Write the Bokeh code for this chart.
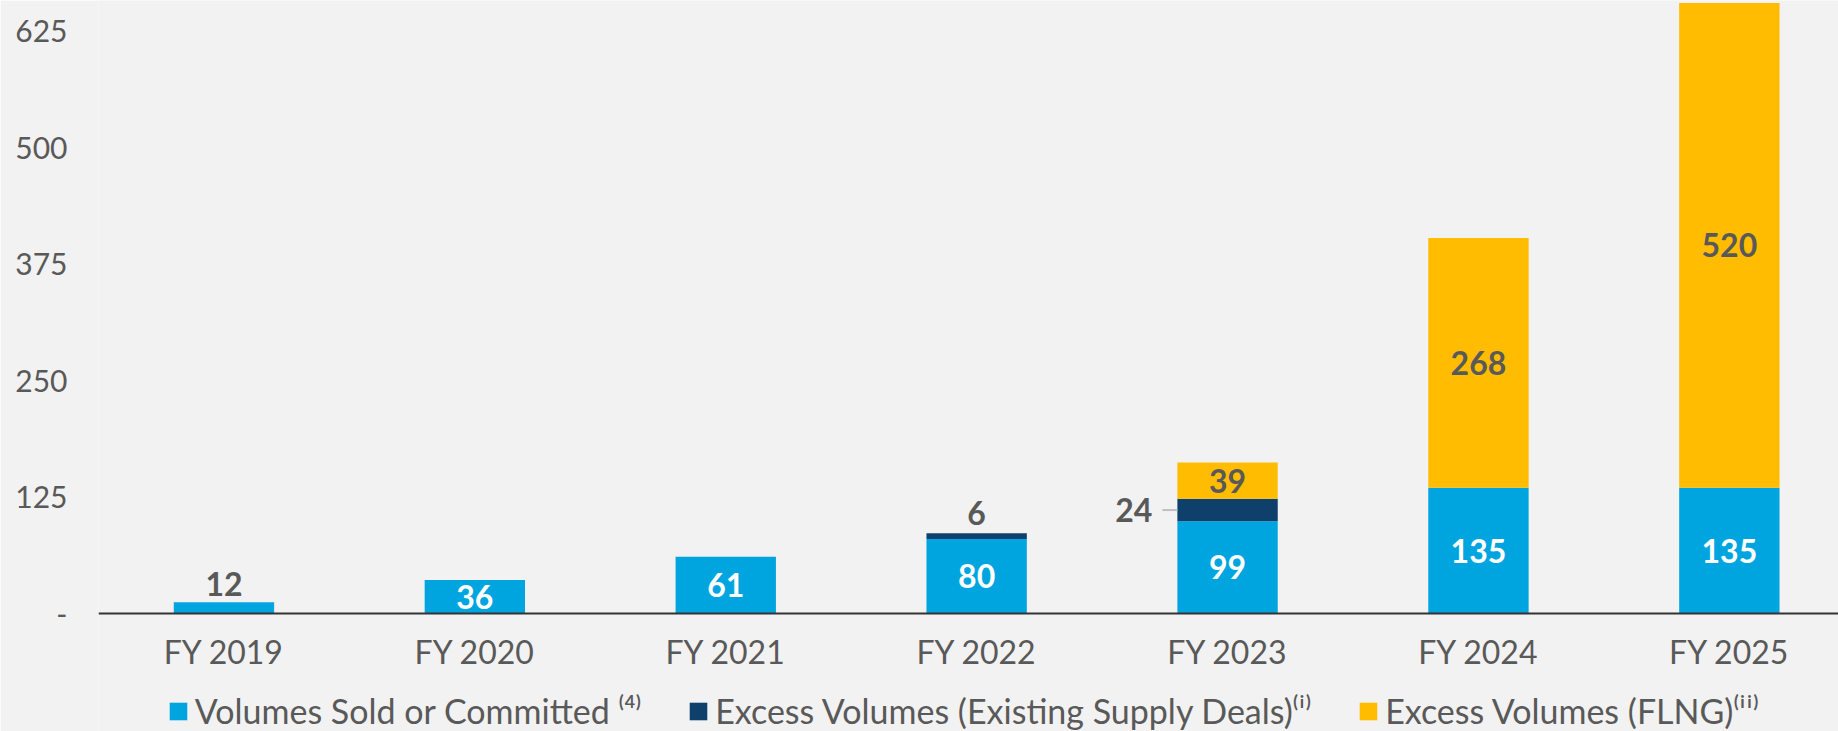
from bokeh.plotting import figure
from bokeh.models import ColumnDataSource, Range1d, FixedTicker, Legend, LegendItem
from bokeh.core.properties import value
from bokeh.embed import file_html
from bokeh.resources import INLINE

# ---- data ----
years = ["FY 2019", "FY 2020", "FY 2021", "FY 2022", "FY 2023", "FY 2024", "FY 2025"]
sold = [12, 36, 61, 80, 99, 135, 135]
existing = [0, 0, 0, 6, 24, 0, 0]
flng = [0, 0, 0, 0, 39, 268, 520]
y_ticks = [0, 125, 250, 375, 500, 625]
series_names = ["Volumes Sold or Committed \u207d\u2074\u207e",
                "Excess Volumes (Existing Supply Deals)\u207d\u2071\u207e",
                "Excess Volumes (FLNG)\u207d\u2071\u2071\u207e"]

# ---- style ----
BLUE = "#00A5DF"
NAVY = "#0F406C"
GOLD = "#FFBC00"
GRAY = "#595959"
BG = "#F2F2F2"
FONT_NAME = "Lato"
FONT = value(FONT_NAME)
BAR_W = 0.4

W, H = 1838, 731
LEFT = 98
BASE_PX = 613            # pixel row of the zero line
PX_PER_Y = 0.932
FRAME_W = W - LEFT
X0, X1 = -0.5, 6.435
PX_PER_X = FRAME_W / (X1 - X0)
Y_TOP = BASE_PX / PX_PER_Y
Y_BOT = -(H - BASE_PX) / PX_PER_Y

xs = list(range(len(years)))
src = ColumnDataSource(dict(x=xs, sold=sold, existing=existing, flng=flng))

p = figure(width=W, height=H, output_backend="svg", toolbar_location=None,
           x_range=Range1d(X0, X1), y_range=Range1d(Y_BOT, Y_TOP),
           min_border_left=LEFT, min_border_right=0, min_border_top=0,
           min_border_bottom=0,
           background_fill_color=BG, border_fill_color=BG, outline_line_color=None)

rs = p.vbar_stack(["sold", "existing", "flng"], x="x", width=BAR_W, source=src,
                  fill_color=[BLUE, NAVY, GOLD], line_color=None)

label_kw = dict(text_font=FONT, text_font_style="bold", text_font_size="32px",
                text_align="center", text_baseline="middle")

# sold labels: inside (white) for tall bars, above for small bar
in_idx = [i for i, v in enumerate(sold) if v >= 30]
out_idx = [i for i, v in enumerate(sold) if v < 30]
p.text(x=[xs[i] for i in in_idx], y=[sold[i] / 2 for i in in_idx],
       text=[str(sold[i]) for i in in_idx], text_color="white", **label_kw)
p.text(x=[xs[i] for i in out_idx], y=[sold[i] for i in out_idx],
       text=[str(sold[i]) for i in out_idx], text_color=GRAY,
       y_offset=-18, **label_kw)

# existing supply labels
ex_idx = [i for i, v in enumerate(existing) if v > 0]
above_ex = [i for i in ex_idx if flng[i] == 0]
side_ex = [i for i in ex_idx if flng[i] > 0]
p.text(x=[xs[i] for i in above_ex], y=[sold[i] + existing[i] for i in above_ex],
       text=[str(existing[i]) for i in above_ex], text_color=GRAY,
       y_offset=-20, **label_kw)
mid_ex = [sold[i] + existing[i] / 2 for i in side_ex]
left_ex = [xs[i] - BAR_W / 2 for i in side_ex]
p.segment(x0=[lx - 15 / PX_PER_X for lx in left_ex], x1=left_ex, y0=mid_ex, y1=mid_ex,
          line_color="#BFBFBF", line_width=2)
p.text(x=left_ex, y=mid_ex, text=[str(existing[i]) for i in side_ex], text_color=GRAY,
       text_baseline="middle", x_offset=-25,
       text_font=FONT, text_font_style="bold", text_font_size="32px", text_align="right")

# FLNG labels
fl_idx = [i for i, v in enumerate(flng) if v > 0]
p.text(x=[xs[i] for i in fl_idx],
       y=[sold[i] + existing[i] + flng[i] / 2 for i in fl_idx],
       text=[str(flng[i]) for i in fl_idx], text_color=GRAY, **label_kw)

# ---- axes ----
p.xgrid.visible = False
p.ygrid.visible = False

xa = p.xaxis[0]
xa.fixed_location = 0
xa.ticker = FixedTicker(ticks=xs)
xa.major_label_overrides = {i: years[i] for i in xs}
xa.axis_line_color = "#333333"
xa.axis_line_width = 2
xa.major_tick_line_color = None
xa.minor_tick_line_color = None
xa.major_tick_in = 0
xa.major_tick_out = 0
xa.major_label_standoff = 18
xa.major_label_text_font = FONT_NAME
xa.major_label_text_font_size = "32px"
xa.major_label_text_color = GRAY

ya = p.yaxis[0]
ya.ticker = FixedTicker(ticks=y_ticks)
ya.major_label_overrides = {0: "-"}
ya.axis_line_color = None
ya.major_tick_line_color = None
ya.minor_tick_line_color = None
ya.major_tick_in = 0
ya.major_tick_out = 0
ya.major_label_standoff = 31
ya.major_label_text_font = FONT_NAME
ya.major_label_text_font_size = "30px"
ya.major_label_text_color = GRAY

# ---- legend (inside the frame, under the zero line) ----
legend = Legend(items=[LegendItem(label=series_names[k], renderers=[rs[k]]) for k in range(3)],
                location=(68.8, 0), orientation="horizontal",
                glyph_width=22, glyph_height=22, label_standoff=6, spacing=46,
                padding=0, margin=0, border_line_color=None, background_fill_alpha=0,
                label_text_font=FONT_NAME, label_text_font_size="34px",
                label_text_color=GRAY)
p.add_layout(legend)

open("out.html", "w").write(file_html(p, INLINE))
